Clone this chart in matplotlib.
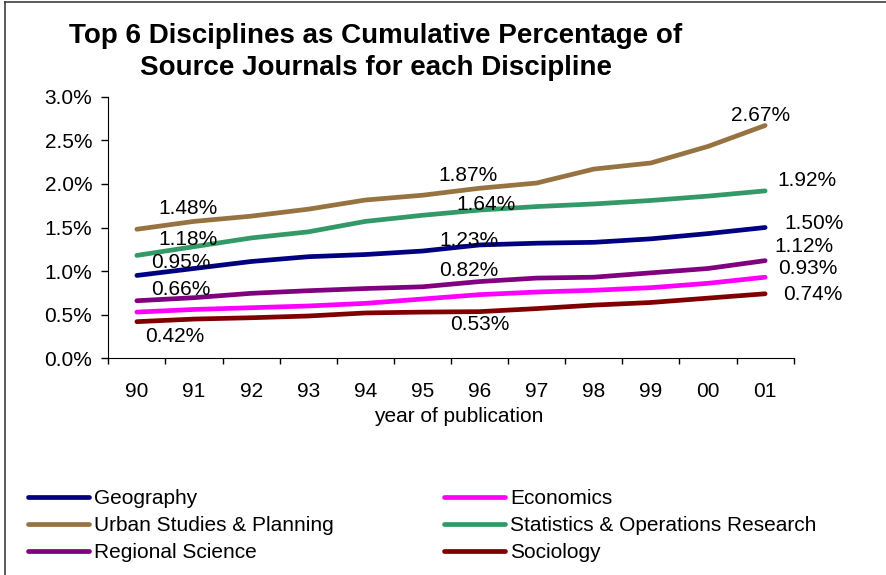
import matplotlib
matplotlib.use("Agg")
import matplotlib.pyplot as plt
from matplotlib.lines import Line2D
from matplotlib.ticker import FuncFormatter, FixedLocator

plt.rcParams['font.family'] = ['Liberation Sans', 'DejaVu Sans']

years = ["90", "91", "92", "93", "94", "95", "96", "97", "98", "99", "00", "01"]

geography = [0.95, 1.03, 1.11, 1.165, 1.19, 1.23, 1.30, 1.32, 1.33, 1.37, 1.43, 1.50]
economics = [0.53, 0.56, 0.58, 0.60, 0.63, 0.68, 0.73, 0.76, 0.78, 0.81, 0.86, 0.93]
urban = [1.48, 1.57, 1.63, 1.71, 1.815, 1.87, 1.95, 2.01, 2.17, 2.24, 2.43, 2.67]
statistics = [1.18, 1.28, 1.38, 1.45, 1.57, 1.64, 1.70, 1.74, 1.77, 1.81, 1.86, 1.92]
regional = [0.66, 0.695, 0.745, 0.775, 0.80, 0.82, 0.88, 0.92, 0.93, 0.98, 1.03, 1.12]
sociology = [0.42, 0.45, 0.465, 0.485, 0.52, 0.53, 0.535, 0.57, 0.61, 0.64, 0.69, 0.74]

names = ["Geography", "Economics", "Urban Studies & Planning",
         "Statistics & Operations Research", "Regional Science", "Sociology"]
series = [geography, economics, urban, statistics, regional, sociology]
colors = ["#000080", "#FF00FF", "#967341", "#339966", "#800080", "#800000"]

# which points get a value label, and where the label sits (pixel offsets)
labels = [
    (2, 0, 51, 21), (3, 0, 51, 16), (0, 0, 44, 13), (4, 0, 44, 11), (5, 0, 38, -15),
    (2, 5, 46, 20), (3, 5, 64, 11), (0, 5, 46, 11), (4, 5, 46, 16), (5, 5, 57, -12),
    (2, 11, -5, 10), (3, 11, 42, 10), (0, 11, 49, 4), (4, 11, 39, 14),
    (1, 11, 43, 9), (5, 11, 48, -1),
]

fig = plt.figure(figsize=(8.87, 5.75), dpi=100)
ax = fig.add_axes([108.3 / 887, 1 - 358.3 / 575, 685.4 / 887, 261.6 / 575])

x = list(range(len(years)))
handles = []
for vals, name, c in zip(series, names, colors):
    h, = ax.plot(x, vals, color=c, lw=3.4, solid_capstyle='round', label=name)
    handles.append(h)

for si, i, dx, dy in labels:
    v = series[si][i]
    ax.annotate(f"{v:.2f}%", xy=(i, v), xytext=(dx, dy), textcoords='offset pixels',
                ha='center', va='center', fontsize=15)

ax.set_xlim(-0.5, len(years) - 0.5)
ax.set_ylim(0, 3.0)
ax.set_yticks([0, 0.5, 1.0, 1.5, 2.0, 2.5, 3.0])
ax.yaxis.set_major_formatter(FuncFormatter(lambda v, p: f"{v:.1f}%"))
ax.tick_params(axis='y', direction='out', length=5, width=1, pad=6.5, labelsize=15)

ax.set_xticks(x)
ax.set_xticklabels(years)
ax.xaxis.set_minor_locator(FixedLocator([i - 0.5 for i in range(len(years) + 1)]))
ax.tick_params(axis='x', which='major', length=0, pad=17, labelsize=15)
ax.tick_params(axis='x', which='minor', direction='out', length=4, width=1)

ax.spines['top'].set_visible(False)
ax.spines['right'].set_visible(False)
ax.set_xlabel("year of publication", fontsize=15)
ax.xaxis.set_label_coords(0.511, -0.187)

fig.text(376 / 887, 1 - 52 / 575,
         "Top 6 Disciplines as Cumulative Percentage of\nSource Journals for each Discipline",
         ha='center', va='center', fontsize=20, fontweight='bold', linespacing=1.3)

order = [0, 2, 4, 1, 3, 5]
fig.legend([handles[k] for k in order], [names[k] for k in order],
           loc='upper left', bbox_to_anchor=(18 / 887, 1 - 479 / 575), ncol=2,
           frameon=False, fontsize=15, borderpad=0, handlelength=2.9,
           handletextpad=0.25, columnspacing=5.3, labelspacing=0.38)

# chart frame
fig.add_artist(Line2D([5 / 887, 5 / 887], [0, 1 - 2 / 575], color="#404040", lw=1.2,
                      transform=fig.transFigure))
fig.add_artist(Line2D([5 / 887, 1], [1 - 2 / 575, 1 - 2 / 575], color="#404040", lw=1.2,
                      transform=fig.transFigure))

fig.savefig("out.png", dpi=100)
